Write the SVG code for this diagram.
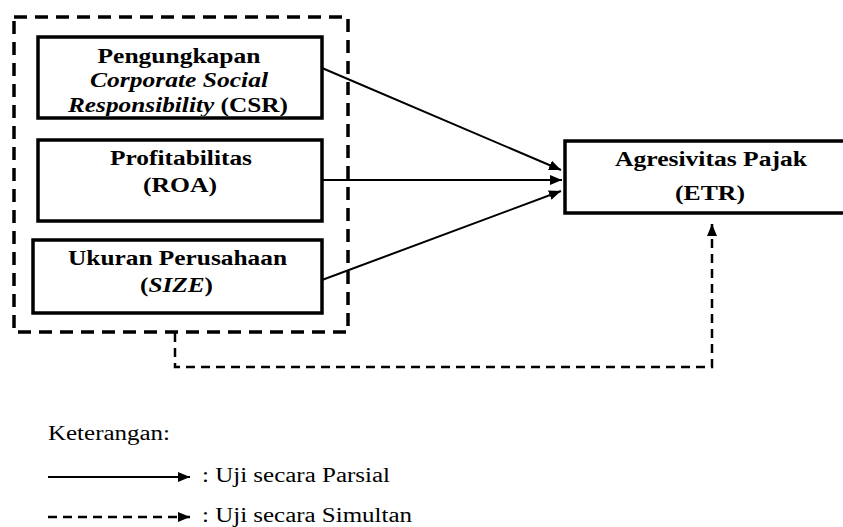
<svg xmlns="http://www.w3.org/2000/svg" width="843" height="527" viewBox="0 0 843 527">
<style>
.box{fill:#fff;stroke:#000;stroke-width:3.5}
.t{font-family:'Liberation Serif','DejaVu Serif','Times New Roman',serif;font-weight:bold;font-size:20px;fill:#000;text-anchor:middle}
.i{font-style:italic}
.lg{font-family:'Liberation Serif','DejaVu Serif','Times New Roman',serif;font-size:20px;fill:#000}
.solid{stroke:#000;stroke-width:2;fill:none}
.dash{stroke:#000;stroke-width:2.5;fill:none;stroke-dasharray:9 6}
</style>
<defs>
<marker id="ah" viewBox="0 0 12 10" refX="12" refY="5" markerWidth="12" markerHeight="10" markerUnits="userSpaceOnUse" orient="auto">
<path d="M0,0 L12,5 L0,10 Z" fill="#000"/>
</marker>
<clipPath id="c1"><rect x="38" y="37" width="284" height="79"/></clipPath>
</defs>
<rect width="843" height="527" fill="#fff"/>
<g id="group-box">
<rect x="14" y="17" width="334" height="315" fill="none" stroke="#000" stroke-width="3.5" stroke-dasharray="13 8"/>
</g>
<g id="csr">
<rect class="box" x="38" y="37" width="284" height="81"/>
<g clip-path="url(#c1)">
<text class="t" font-family="Liberation Serif, serif" x="179" y="63" textLength="163" lengthAdjust="spacingAndGlyphs">Pengungkapan</text>
<text class="t i" font-family="Liberation Serif, serif" x="179" y="87" textLength="178" lengthAdjust="spacingAndGlyphs">Corporate Social</text>
<text class="t" font-family="Liberation Serif, serif" x="178" y="112" textLength="220" lengthAdjust="spacingAndGlyphs"><tspan class="i">Responsibility</tspan> (CSR)</text>
</g>
</g>
<g id="roa">
<rect class="box" x="38" y="140" width="284" height="81"/>
<text class="t" font-family="Liberation Serif, serif" x="181" y="165" textLength="142" lengthAdjust="spacingAndGlyphs">Profitabilitas</text>
<text class="t" font-family="Liberation Serif, serif" x="180" y="192" textLength="74" lengthAdjust="spacingAndGlyphs">(ROA)</text>
</g>
<g id="size">
<rect class="box" x="33" y="240" width="289" height="73"/>
<text class="t" font-family="Liberation Serif, serif" x="177.5" y="265" textLength="219" lengthAdjust="spacingAndGlyphs">Ukuran Perusahaan</text>
<text class="t" font-family="Liberation Serif, serif" x="176.5" y="292" textLength="73" lengthAdjust="spacingAndGlyphs">(<tspan class="i">SIZE</tspan>)</text>
</g>
<g id="etr">
<rect class="box" x="565" y="141" width="290" height="72"/>
<text class="t" font-family="Liberation Serif, serif" x="711" y="166" textLength="192" lengthAdjust="spacingAndGlyphs">Agresivitas Pajak</text>
<text class="t" font-family="Liberation Serif, serif" x="710" y="200" textLength="70" lengthAdjust="spacingAndGlyphs">(ETR)</text>
</g>
<g id="connectors">
<line class="solid" x1="322" y1="68" x2="561" y2="170" marker-end="url(#ah)"/>
<line class="solid" x1="322" y1="180" x2="562" y2="180" marker-end="url(#ah)"/>
<line class="solid" x1="322" y1="280" x2="561" y2="191" marker-end="url(#ah)"/>
<path class="dash" d="M175,333 V367 H712 V224" marker-end="url(#ah)"/>
</g>
<g id="legend">
<text class="lg" font-family="Liberation Serif, serif" x="48" y="440" textLength="122" lengthAdjust="spacingAndGlyphs">Keterangan:</text>
<line class="solid" x1="48" y1="477" x2="190" y2="477" marker-end="url(#ah)"/>
<text class="lg" font-family="Liberation Serif, serif" x="202" y="482" textLength="188" lengthAdjust="spacingAndGlyphs">: Uji secara Parsial</text>
<line class="dash" x1="48" y1="517" x2="190" y2="517" marker-end="url(#ah)"/>
<text class="lg" font-family="Liberation Serif, serif" x="202" y="522" textLength="210" lengthAdjust="spacingAndGlyphs">: Uji secara Simultan</text>
</g>
</svg>
